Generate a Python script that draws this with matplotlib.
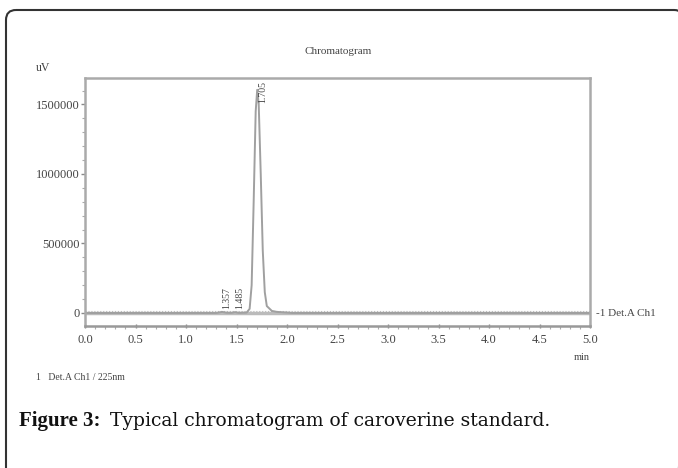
import matplotlib.pyplot as plt
from matplotlib.patches import FancyBboxPatch
from matplotlib.ticker import MultipleLocator
import numpy as np

# Chromatogram trace (time in min, signal in uV)
time_min = [0.0, 1.30, 1.357, 1.40, 1.45, 1.485, 1.52, 1.60, 1.63, 1.65,
            1.67, 1.69, 1.705, 1.72, 1.74, 1.76, 1.78, 1.80, 1.85, 1.90,
            2.00, 2.05, 5.0]
signal_uv = [0, 0, 8000, 2000, 1000, 6000, 1000, 3000, 30000, 200000,
             800000, 1450000, 1605000, 1500000, 1000000, 450000, 150000,
             50000, 15000, 8000, 3000, 0, 0]

peak_times = [1.357, 1.485, 1.705]
peak_labels = ['1.357', '1.485', '1.705']
peak_label_y = [30000, 30000, 1665000]

x_ticks = [0.0, 0.5, 1.0, 1.5, 2.0, 2.5, 3.0, 3.5, 4.0, 4.5, 5.0]
y_ticks = [0, 500000, 1000000, 1500000]

W, H = 678, 468
fig = plt.figure(figsize=(W / 100, H / 100), dpi=100)

# background axes in pixel units, only for the rounded frame
bg = fig.add_axes([0, 0, 1, 1])
bg.set_xlim(0, W)
bg.set_ylim(H, 0)
bg.axis('off')
frame = FancyBboxPatch((6, 10), 678, 500,
                       boxstyle='round,pad=0,rounding_size=10',
                       fill=False, edgecolor='#333333', linewidth=1.5)
bg.add_patch(frame)

ax = fig.add_axes([85 / W, (H - 326) / H, 505 / W, 248 / H])
ax.plot(time_min, signal_uv, color='#a0a0a0', linewidth=1.4)
ax.axhline(0, color='#bbbbbb', linewidth=2.5, zorder=1)
ax.axhline(15000, color='#bbbbbb', linewidth=0.8, linestyle=':', zorder=1)

ax.set_xlim(0, 5.0)
ax.set_ylim(-93500, 1690000)
ax.set_xticks(x_ticks)
ax.set_xticklabels([f'{v:.1f}' for v in x_ticks])
ax.set_yticks(y_ticks)
ax.set_yticklabels([str(v) for v in y_ticks])
ax.xaxis.set_minor_locator(MultipleLocator(0.1))
ax.yaxis.set_minor_locator(MultipleLocator(100000))

for side in ['top', 'right', 'left', 'bottom']:
    ax.spines[side].set_color('#aaaaaa')
    ax.spines[side].set_linewidth(1.8)
ax.spines['bottom'].set_color('#999999')

ax.tick_params(axis='both', which='major', length=3, width=1, color='#888888',
               labelsize=9, labelcolor='#444444', pad=0.5)
ax.tick_params(axis='both', which='minor', length=2, width=0.8, color='#aaaaaa')
ax.tick_params(axis='y', direction='out')
ax.tick_params(axis='x', direction='inout', pad=4)
for lab in ax.get_xticklabels() + ax.get_yticklabels():
    lab.set_family('Liberation Serif')

# peak labels, rotated
for t, lab, y in zip(peak_times, peak_labels, peak_label_y):
    va = 'top' if y > 1000000 else 'bottom'
    ax.text(t + 0.05, y, lab, rotation=90, ha='center', va=va,
            fontsize=7, family='Liberation Serif', color='#444444')

fig.text(338 / W, 1 - 52 / H, 'Chromatogram', ha='center', va='center',
         fontsize=8, family='Liberation Serif', color='#444444')
fig.text(36 / W, 1 - 68 / H, 'uV', ha='left', va='center',
         fontsize=8.5, family='Liberation Serif', color='#444444')
fig.text(596 / W, 1 - 313 / H, '-1 Det.A Ch1', ha='left', va='center',
         fontsize=8, family='Liberation Serif', color='#444444')
fig.text(590 / W, 1 - 358 / H, 'min', ha='right', va='center',
         fontsize=7.5, family='Liberation Serif', color='#444444')
fig.text(36 / W, 1 - 377 / H, '1   Det.A Ch1 / 225nm', ha='left', va='center',
         fontsize=7, family='Liberation Serif', color='#444444')

fig.text(19 / W, 1 - 421 / H, 'Figure 3:', ha='left', va='center',
         fontsize=15, family='Liberation Serif', weight='bold', color='#111111')
fig.text(110 / W, 1 - 421 / H, 'Typical chromatogram of caroverine standard.',
         ha='left', va='center', fontsize=13.5, family='DejaVu Serif',
         color='#111111')

fig.savefig('out.png', dpi=100)
